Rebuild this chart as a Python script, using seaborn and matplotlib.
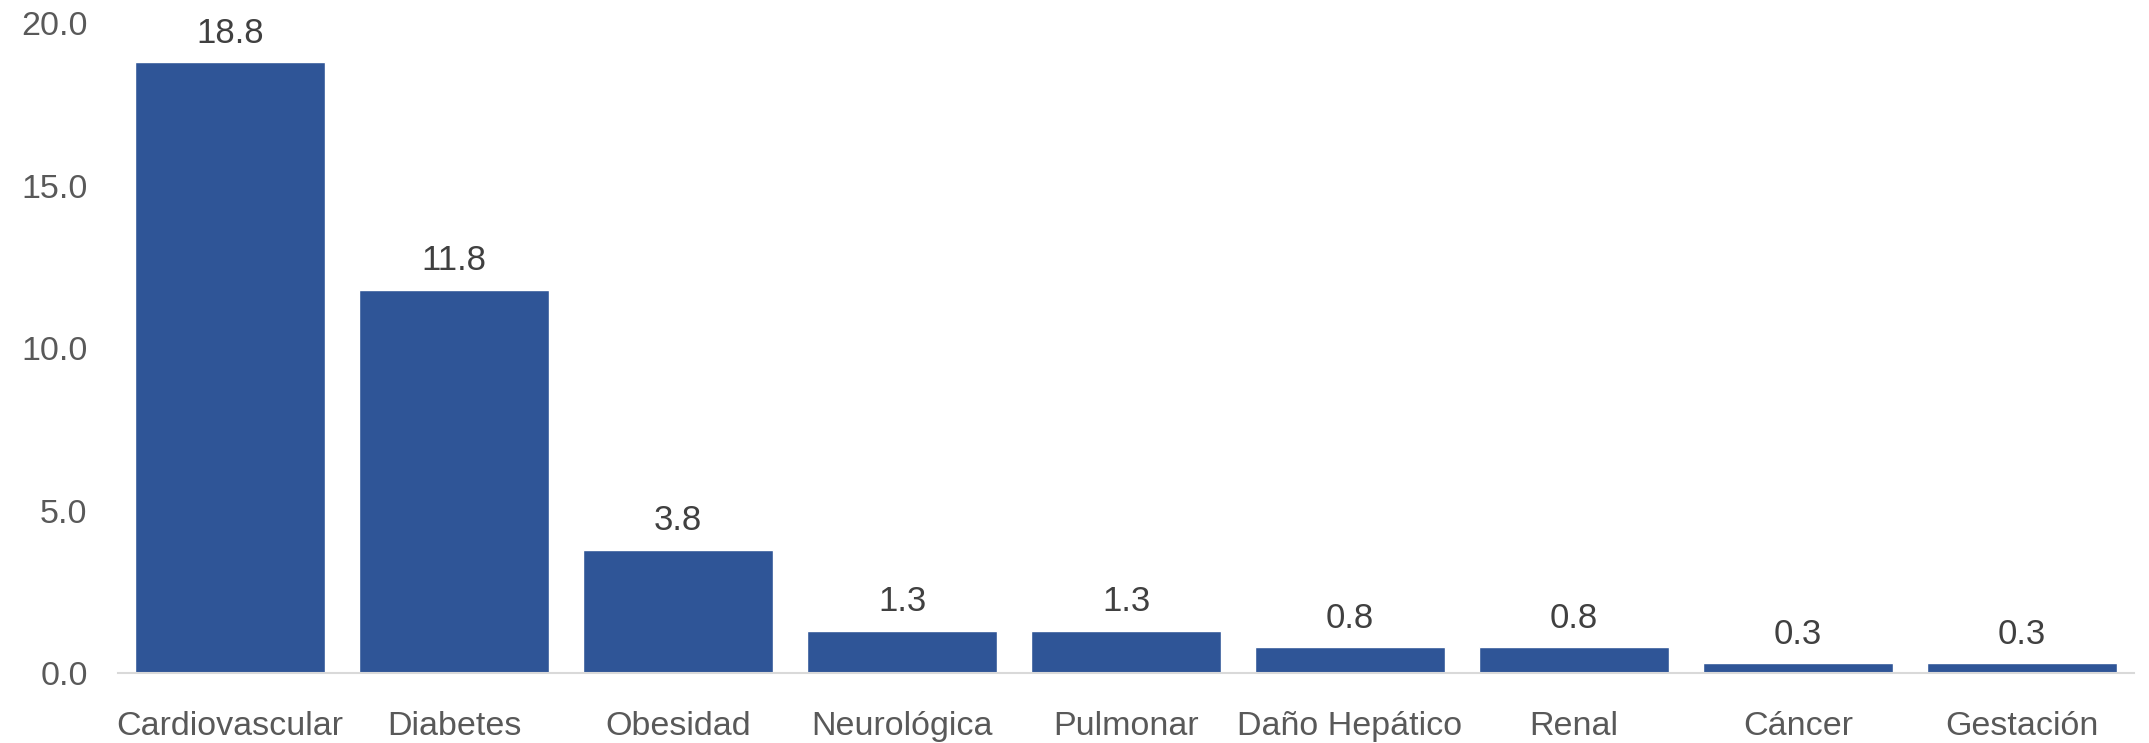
import pandas as pd
import matplotlib.pyplot as plt
import seaborn as sns

# Chart data
categories = ['Cardiovascular', 'Diabetes', 'Obesidad', 'Neurológica', 'Pulmonar',
              'Daño Hepático', 'Renal', 'Cáncer', 'Gestación']
values = [18.8, 11.8, 3.8, 1.3, 1.3, 0.8, 0.8, 0.3, 0.3]
yticks = [0, 5, 10, 15, 20]

df = pd.DataFrame({'Comorbilidad': categories, 'Valor': values})

sns.set_style('white')
plt.rcParams['font.family'] = ['Liberation Sans', 'DejaVu Sans']

fig = plt.figure(figsize=(21.49, 7.43), dpi=100)
ax = fig.add_axes([0.055, 0.094, 0.938, 0.875])

sns.barplot(data=df, x='Comorbilidad', y='Valor', color='#2F5597',
            saturation=1, width=0.85, ax=ax)

# Value labels above the bars
ax.bar_label(ax.containers[0], fmt='%.1f', padding=9, fontsize=25, color='#404040')

ax.set_ylim(0, 20)
ax.set_xlim(-0.5, len(categories) - 0.5)
ax.set_yticks(yticks)
ax.set_yticklabels([f'{t:.1f}' for t in yticks])
ax.tick_params(axis='both', labelsize=24.5, labelcolor='#595959', length=0)
ax.tick_params(axis='x', pad=27)
ax.tick_params(axis='y', pad=22)
ax.set_xlabel('')
ax.set_ylabel('')

for side in ['top', 'right', 'left']:
    ax.spines[side].set_visible(False)
ax.spines['bottom'].set_color('#d9d9d9')
ax.spines['bottom'].set_linewidth(1.5)

plt.savefig('out.png', dpi=100)
